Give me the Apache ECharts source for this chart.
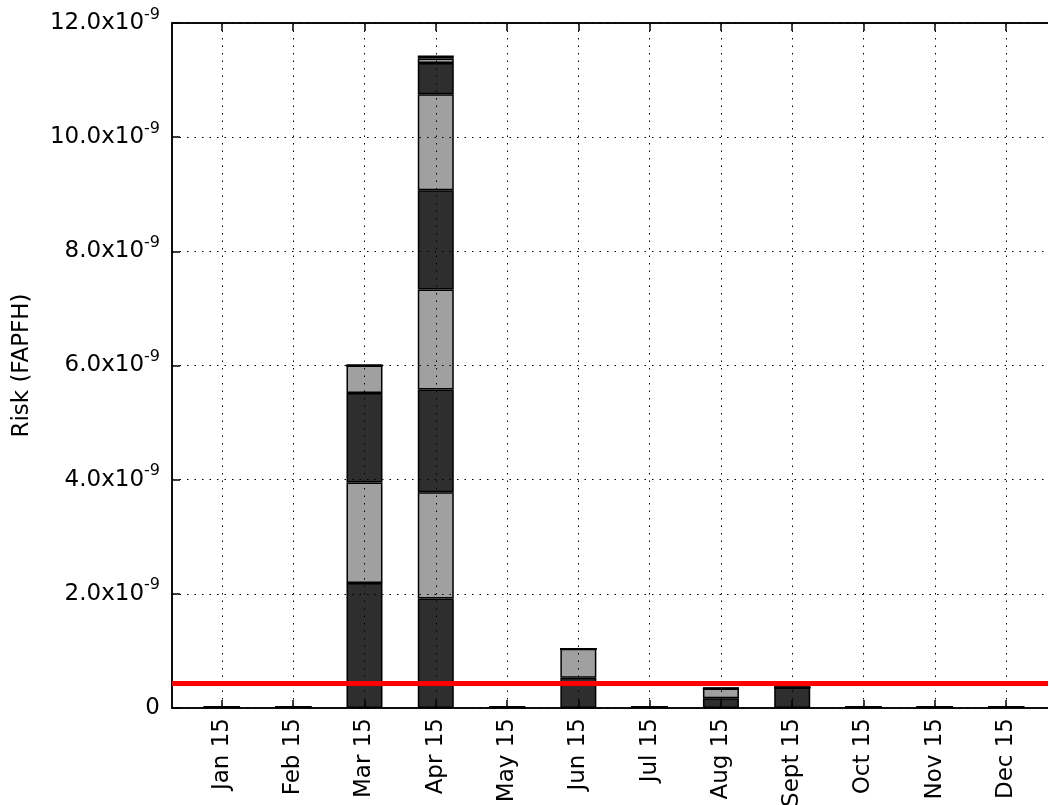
<!DOCTYPE html>
<html>
<head>
<meta charset="utf-8">
<script src="https://cdn.jsdelivr.net/npm/echarts@6/dist/echarts.min.js"></script>
<style>
  html, body { margin: 0; padding: 0; background: #fff; }
  #chart { width: 1048px; height: 805px; }
</style>
</head>
<body>
<div id="chart"></div>
<script>
// months on the x axis
var months = ['Jan 15', 'Feb 15', 'Mar 15', 'Apr 15', 'May 15', 'Jun 15',
              'Jul 15', 'Aug 15', 'Sept 15', 'Oct 15', 'Nov 15', 'Dec 15'];

// stacked risk contributions, in units of 1e-9 (bottom to top)
var s1 = [0.02, 0.02, 2.19, 1.92, 0.02, 0.53, 0.02, 0.17, 0.36, 0.02, 0.02, 0.02];
var s2 = [0, 0, 1.76, 1.86, 0, 0.51, 0, 0.17, 0, 0, 0, 0];
var s3 = [0, 0, 1.57, 1.80, 0, 0, 0, 0, 0, 0, 0, 0];
var s4 = [0, 0, 0.48, 1.75, 0, 0, 0, 0, 0, 0, 0, 0];
var s5 = [0, 0, 0, 1.74, 0, 0, 0, 0, 0, 0, 0, 0];
var s6 = [0, 0, 0, 1.68, 0, 0, 0, 0, 0, 0, 0, 0];
var s7 = [0, 0, 0, 0.55, 0, 0, 0, 0, 0, 0, 0, 0];
var s8 = [0, 0, 0, 0.08, 0, 0, 0, 0, 0, 0, 0, 0];
var s9 = [0, 0, 0, 0.05, 0, 0, 0, 0, 0, 0, 0, 0];

var threshold = 0.43;   // red limit line, 1e-9

var stacks = [s1, s2, s3, s4, s5, s6, s7, s8, s9];
var dark = '#2e2e2e', grey = '#a0a0a0';
var idx = months.map(function (m, i) { return i; });

var font = 'DejaVu Sans';

// value first so the stack runs along y
var series = stacks.map(function (arr, k) {
  return {
    type: 'bar',
    stack: 'risk',
    barWidth: 36,
    z: -1,
    encode: { x: 1, y: 0 },
    itemStyle: { color: k % 2 === 0 ? dark : grey, borderColor: '#000', borderWidth: 1.5 },
    data: arr.map(function (v, i) { return [v, i]; })
  };
});

series.push({
  type: 'line',
  data: [],
  markLine: {
    silent: true,
    symbol: 'none',
    label: { show: false },
    lineStyle: { color: '#ff0000', width: 5, type: 'solid' },
    data: [{ yAxis: threshold }]
  },
  z: 5
});

var chart = echarts.init(document.getElementById('chart'));
chart.setOption({
  animation: false,
  backgroundColor: '#fff',
  grid: {
    left: 172, top: 23, width: 884, height: 685,
    outerBoundsMode: 'none', containLabel: false,
    show: true, borderColor: '#000', borderWidth: 1.5
  },
  xAxis: [{
    type: 'value',
    min: -0.7,
    max: 11.7,
    axisLine: { show: true, onZero: false, lineStyle: { color: '#000', width: 1.5 } },
    axisTick: { show: true, inside: true, length: 8, customValues: idx, lineStyle: { color: '#000', width: 1.5 } },
    axisLabel: {
      customValues: idx,
      rotate: 90,
      margin: 10,
      color: '#000',
      fontFamily: font,
      fontSize: 23,
      formatter: function (v) { return months[Math.round(v)]; }
    },
    splitLine: { show: true, lineStyle: { color: '#000', width: 1, type: [1.5, 6] } }
  }, {
    type: 'value',
    position: 'top',
    min: -0.7,
    max: 11.7,
    axisLine: { show: true, onZero: false, lineStyle: { color: '#000', width: 1.5 } },
    axisTick: { show: true, inside: true, length: 8, customValues: idx, lineStyle: { color: '#000', width: 1.5 } },
    axisLabel: { show: false },
    splitLine: { show: false }
  }],
  yAxis: {
    type: 'value',
    min: 0,
    max: 12,
    interval: 2,
    name: 'Risk (FAPFH)',
    nameLocation: 'middle',
    nameGap: 138,
    nameTextStyle: { color: '#000', fontFamily: font, fontSize: 23 },
    axisLine: { show: true, onZero: false, lineStyle: { color: '#000', width: 1.5 } },
    axisTick: { show: true, inside: true, length: 8, lineStyle: { color: '#000', width: 1.5 } },
    axisLabel: {
      margin: 12,
      color: '#000',
      fontFamily: font,
      fontSize: 23,
      formatter: function (v) {
        if (v === 0) return '0';
        return '{a|' + v.toFixed(1) + 'x10}{b|-9}';
      },
      rich: {
        a: { fontFamily: font, fontSize: 23, color: '#000' },
        b: { fontFamily: font, fontSize: 16, color: '#000', padding: [0, 0, 17, 0] }
      }
    },
    splitLine: { show: true, lineStyle: { color: '#000', width: 1, type: [1.5, 6] } }
  },
  series: series
});
</script>
</body>
</html>
